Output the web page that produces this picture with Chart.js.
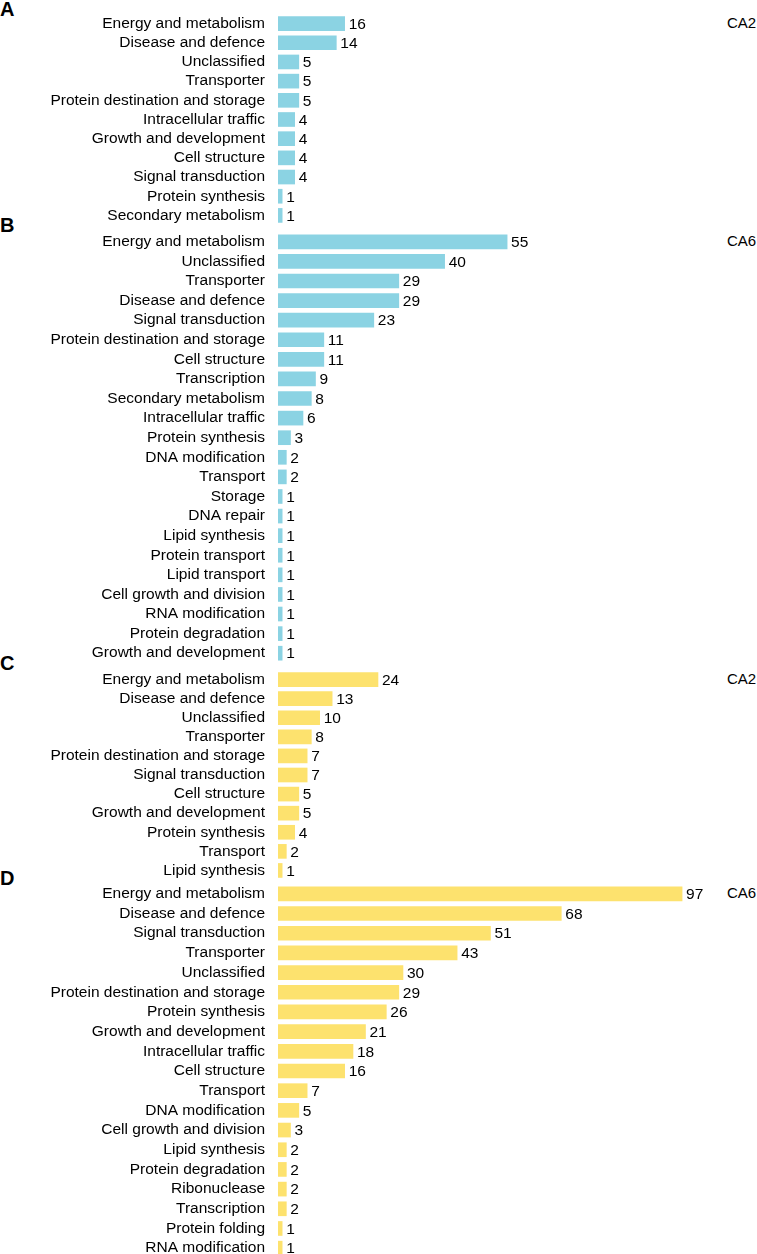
<!DOCTYPE html>
<html lang="en">
<head>
  <meta charset="UTF-8" />
  <title>Functional categories CA2 / CA6</title>
  <script src="https://cdn.jsdelivr.net/npm/chart.js@4"></script>
  <style>
    html, body {
      margin: 0;
      padding: 0;
      background: #fff;
      overflow: hidden;
    }
    body {
      width: 757px;
      height: 1254px;
      position: relative;
      font-family: 'Liberation Sans', Arial, sans-serif;
      color: #000;
    }
    canvas {
      position: absolute;
      left: 0;
    }
    .letter {
      position: absolute;
      left: 0;
      font-size: 20px;
      font-weight: bold;
      line-height: 20px;
    }
    .tag {
      position: absolute;
      left: 727px;
      font-size: 15px;
      line-height: 16px;
    }
  </style>
</head>
<body>
  <div class="letter" style="top:-1px">A</div>
  <div class="letter" style="top:215px">B</div>
  <div class="letter" style="top:653px">C</div>
  <div class="letter" style="top:868px">D</div>

  <div class="tag" style="top:15px">CA2</div>
  <div class="tag" style="top:233px">CA6</div>
  <div class="tag" style="top:671px">CA2</div>
  <div class="tag" style="top:885px">CA6</div>

  <canvas id="chartA" width="757" height="211" style="top:14px"></canvas>
  <canvas id="chartB" width="757" height="431" style="top:232px"></canvas>
  <canvas id="chartC" width="757" height="210" style="top:670px"></canvas>
  <canvas id="chartD" width="757" height="374" style="top:884px"></canvas>

  <script>
    // panel A - CA2 (blue)
    const labelsA = ['Energy and metabolism', 'Disease and defence', 'Unclassified', 'Transporter',
      'Protein destination and storage', 'Intracellular traffic', 'Growth and development',
      'Cell structure', 'Signal transduction', 'Protein synthesis', 'Secondary metabolism'];
    const valuesA = [16, 14, 5, 5, 5, 4, 4, 4, 4, 1, 1];

    // panel B - CA6 (blue)
    const labelsB = ['Energy and metabolism', 'Unclassified', 'Transporter', 'Disease and defence',
      'Signal transduction', 'Protein destination and storage', 'Cell structure', 'Transcription',
      'Secondary metabolism', 'Intracellular traffic', 'Protein synthesis', 'DNA modification',
      'Transport', 'Storage', 'DNA repair', 'Lipid synthesis', 'Protein transport', 'Lipid transport',
      'Cell growth and division', 'RNA modification', 'Protein degradation', 'Growth and development'];
    const valuesB = [55, 40, 29, 29, 23, 11, 11, 9, 8, 6, 3, 2, 2, 1, 1, 1, 1, 1, 1, 1, 1, 1];

    // panel C - CA2 (yellow)
    const labelsC = ['Energy and metabolism', 'Disease and defence', 'Unclassified', 'Transporter',
      'Protein destination and storage', 'Signal transduction', 'Cell structure',
      'Growth and development', 'Protein synthesis', 'Transport', 'Lipid synthesis'];
    const valuesC = [24, 13, 10, 8, 7, 7, 5, 5, 4, 2, 1];

    // panel D - CA6 (yellow)
    const labelsD = ['Energy and metabolism', 'Disease and defence', 'Signal transduction', 'Transporter',
      'Unclassified', 'Protein destination and storage', 'Protein synthesis', 'Growth and development',
      'Intracellular traffic', 'Cell structure', 'Transport', 'DNA modification',
      'Cell growth and division', 'Lipid synthesis', 'Protein degradation', 'Ribonuclease',
      'Transcription', 'Protein folding', 'RNA modification'];
    const valuesD = [97, 68, 51, 43, 30, 29, 26, 21, 18, 16, 7, 5, 3, 2, 2, 2, 2, 1, 1];

    const BLUE = '#8bd3e3';
    const YELLOW = '#fde26e';
    const FONT = "'Liberation Sans', Arial, sans-serif";

    // draws the count just after the end of each bar
    const valueLabels = {
      id: 'valueLabels',
      afterDatasetsDraw(chart) {
        const ctx = chart.ctx;
        const meta = chart.getDatasetMeta(0);
        const vals = chart.data.datasets[0].data;
        ctx.save();
        ctx.font = '15.5px ' + FONT;
        ctx.fillStyle = '#000';
        ctx.textAlign = 'left';
        ctx.textBaseline = 'middle';
        meta.data.forEach((bar, i) => {
          ctx.fillText(String(vals[i]), bar.x + 4, bar.y + 1);
        });
        ctx.restore();
      }
    };

    function makeChart(id, labels, values, color) {
      return new Chart(document.getElementById(id), {
        type: 'bar',
        data: {
          labels: labels,
          datasets: [{
            data: values,
            backgroundColor: color,
            borderWidth: 0,
            barThickness: 14
          }]
        },
        options: {
          indexAxis: 'y',
          responsive: false,
          animation: false,
          layout: { padding: { left: 0, right: 57, top: 0, bottom: 0 } },
          plugins: {
            legend: { display: false },
            tooltip: { enabled: false }
          },
          scales: {
            x: {
              display: false,
              min: 0,
              max: 101.3
            },
            y: {
              grid: { display: false, drawTicks: false },
              border: { display: false },
              ticks: {
                autoSkip: false,
                padding: 13,
                color: '#000',
                font: { family: FONT, size: 15.5 }
              },
              afterFit(scale) {
                scale.width = 278;
                // no extra room above / below the first and last rows
                scale.paddingTop = 0;
                scale.paddingBottom = 0;
              }
            }
          }
        },
        plugins: [valueLabels]
      });
    }

    makeChart('chartA', labelsA, valuesA, BLUE);
    makeChart('chartB', labelsB, valuesB, BLUE);
    makeChart('chartC', labelsC, valuesC, YELLOW);
    makeChart('chartD', labelsD, valuesD, YELLOW);
  </script>
</body>
</html>
